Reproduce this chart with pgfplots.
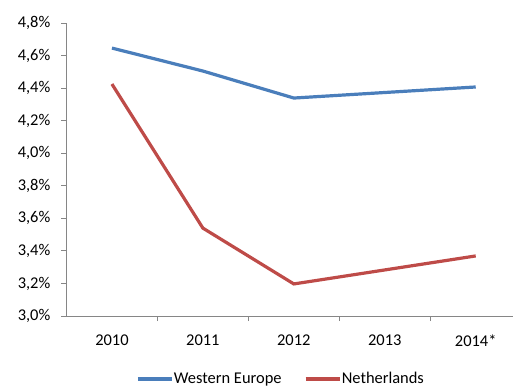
\documentclass[border=0pt]{standalone}
\usepackage{pgfplots}
\pgfplotsset{compat=1.18}
\usepackage{fontspec}
\setmainfont{Carlito}
\definecolor{weblue}{HTML}{4A7EBB}
\definecolor{nlred}{HTML}{BE4B48}
\definecolor{axgray}{HTML}{868686}
\begin{document}
\fontsize{16.5}{19}\selectfont
\begin{tikzpicture}[x=1bp,y=1bp]
\path[use as bounding box] (-66,-71) rectangle (447,316);
\begin{axis}[
  at={(0,0)}, anchor=south west,
  scale only axis, width=447bp, height=293bp,
  xmin=-0.505, xmax=4.41, ymin=3.0, ymax=4.8,
  axis x line*=bottom, axis y line*=left,
  axis line style={axgray, line width=0.8bp},
  xtick={0,1,2,3,4},
  xticklabels={2010,2011,2012,2013,2014*},
  minor xtick={0.5,1.5,2.5,3.5},
  major x tick style={draw=none},
  minor x tick style={axgray, line width=0.8bp},
  minor tick length=5bp,
  ytick={3.0,3.2,3.4,3.6,3.8,4.0,4.2,4.4,4.6,4.8},
  yticklabels={{3,0\%},{3,2\%},{3,4\%},{3,6\%},{3,8\%},{4,0\%},{4,2\%},{4,4\%},{4,6\%},{4,8\%}},
  y tick style={axgray, line width=0.8bp},
  major tick length=5bp,
  tick align=outside,
  ticklabel style={font=\fontsize{16.5}{19}\selectfont},
  yticklabel style={xshift=-5bp},
  xticklabel style={yshift=-8bp},
  legend columns=2,
  legend style={at={(0.15,-0.215)}, anchor=west, draw=none, fill=none,
    font=\fontsize{16.5}{19}\selectfont, column sep=0bp,
    nodes={inner xsep=0.5bp},
    /tikz/every even column/.append style={column sep=22bp}},
  legend image code/.code={\draw[#1, line width=3.2bp] (0bp,0bp) -- (34bp,0bp);},
  clip=false,
]
\addplot[weblue, line width=3.2bp] coordinates {(0,4.646) (1,4.505) (2,4.339) (4,4.407)};
\addlegendentry{Western Europe}
\addplot[nlred, line width=3.2bp] coordinates {(0,4.425) (1,3.540) (2,3.197) (4,3.369)};
\addlegendentry{Netherlands}
\end{axis}
\end{tikzpicture}
\end{document}
